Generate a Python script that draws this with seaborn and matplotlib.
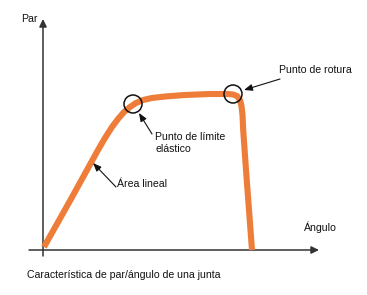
import matplotlib
matplotlib.use("Agg")
import matplotlib.pyplot as plt
from matplotlib.patches import Circle
import seaborn as sns
import pandas as pd

# Data (schematic torque/angle curve)
angle = [1, 28, 55, 62, 69, 75, 81, 87, 93, 100, 109, 122, 142, 167, 185,
         190, 194, 197, 198.5, 199.5, 200.2, 203, 206, 209]
torque = [3, 51, 100, 112, 123, 131, 138, 143, 147, 150, 152, 153.5, 155, 156, 156,
          155.5, 154, 150, 144, 135, 120, 80, 40, 0]

x_label = "Ángulo"
y_label = "Par"
caption = "Característica de par/ángulo de una junta"
ann_break = "Punto de rotura"
ann_yield = "Punto de límite\nelástico"
ann_linear = "Área lineal"

sns.set_style("white")
plt.rcParams['font.family'] = ['Liberation Sans', 'DejaVu Sans']

fig = plt.figure(figsize=(3.67, 2.95), dpi=100)
ax = fig.add_axes([0, 0, 1, 1])
ax.set_xlim(-43, 324)
ax.set_ylim(-45, 250)
ax.axis("off")

df = pd.DataFrame({"angle": angle, "torque": torque})
sns.lineplot(data=df, x="angle", y="torque", sort=False, ax=ax,
             color="#EE7D3A", linewidth=4.4, solid_capstyle="butt",
             solid_joinstyle="round", zorder=2)

axis_col = "#333333"
# axes arrows
ax.annotate("", xy=(0, 231), xytext=(0, -6),
            arrowprops=dict(arrowstyle="-|>,head_length=0.45,head_width=0.22",
                            color=axis_col, lw=1.1, shrinkA=0, shrinkB=0), zorder=1)
ax.annotate("", xy=(276, 0), xytext=(-14, 0),
            arrowprops=dict(arrowstyle="-|>,head_length=0.45,head_width=0.22",
                            color=axis_col, lw=1.1, shrinkA=0, shrinkB=0), zorder=1)

fs = 7.6
ax.text(-22, 231, y_label, fontsize=fs, ha="left", va="center", color="#111111")
ax.text(261, 23, x_label, fontsize=fs, ha="left", va="center", color="#111111")
ax.text(-16, -25, caption, fontsize=fs, ha="left", va="center", color="#111111")

# circles
ax.add_patch(Circle((90, 146), 9, fill=False, ec="#111111", lw=1.1, zorder=3))
ax.add_patch(Circle((190, 156), 9, fill=False, ec="#111111", lw=1.1, zorder=3))

arrow_kw = dict(arrowstyle="-|>,head_length=0.5,head_width=0.2", color="#111111",
                lw=0.8, shrinkA=0, shrinkB=0)
ax.annotate("", xy=(201, 160), xytext=(237, 171), arrowprops=arrow_kw)
ax.text(236, 180, ann_break, fontsize=fs, ha="left", va="center", color="#111111")

ax.annotate("", xy=(96, 137), xytext=(109, 116), arrowprops=arrow_kw)
ax.text(112, 107, ann_yield, fontsize=fs, ha="left", va="center", color="#111111",
        linespacing=1.3)

ax.annotate("", xy=(50, 87), xytext=(73, 63), arrowprops=arrow_kw)
ax.text(74, 66, ann_linear, fontsize=fs, ha="left", va="center", color="#111111")

fig.savefig("out.png", dpi=100)
